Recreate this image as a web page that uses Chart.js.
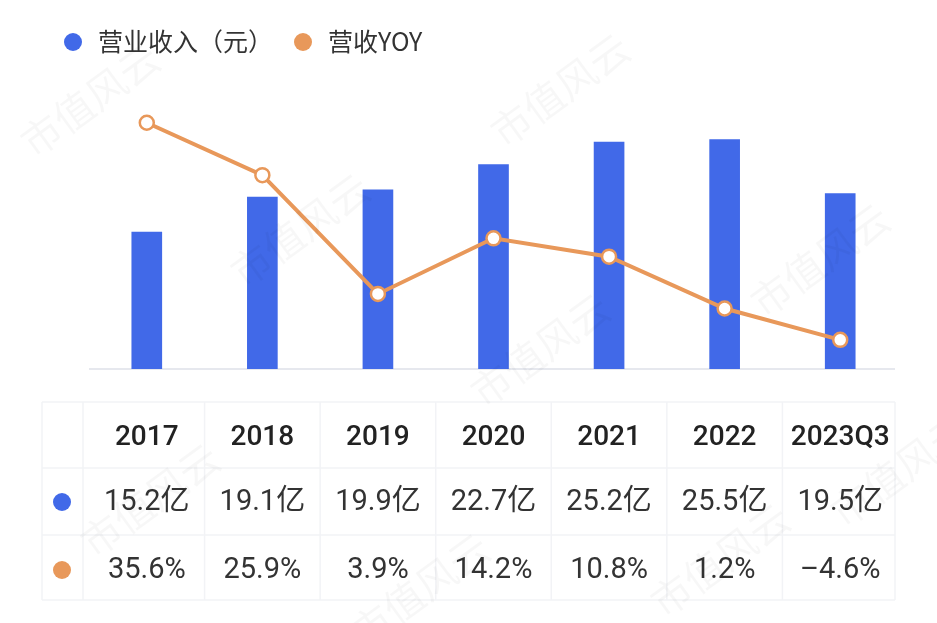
<!DOCTYPE html>
<html>
<head>
<meta charset="utf-8">
<script src="https://cdn.jsdelivr.net/npm/chart.js@4.4.0/dist/chart.umd.min.js"></script>
<style>
  html, body { margin: 0; padding: 0; background: #fff; }
  canvas { display: block; }
</style>
</head>
<body>
<canvas id="chart" width="937" height="623"></canvas>
<script>
// データ
const categories = ['2017', '2018', '2019', '2020', '2021', '2022', '2023Q3'];
const revenue = [15.2, 19.1, 19.9, 22.7, 25.2, 25.5, 19.5]; // 亿元
const yoy = [35.6, 25.9, 3.9, 14.2, 10.8, 1.2, -4.6];      // %
const seriesNames = ['营业收入（元）', '营收YOY'];

const BLUE = '#4169e8';
const ORANGE = '#e8985a';
const FONT = 'Roboto, "Noto Sans CJK SC", sans-serif';

// 表の文字列
const revenueText = revenue.map(v => v.toFixed(1) + '亿');
const yoyText = yoy.map(v => (v < 0 ? '–' + Math.abs(v).toFixed(1) : v.toFixed(1)) + '%');

// 凡例・基線・下の表を描くプラグイン
const extrasPlugin = {
    id: 'extras',
    beforeDatasetsDraw(chart) {
        const ctx = chart.ctx;
        const area = chart.chartArea;
        ctx.save();
        ctx.strokeStyle = '#e6e8ee';
        ctx.lineWidth = 2;
        ctx.beginPath();
        ctx.moveTo(area.left, area.bottom);
        ctx.lineTo(area.right - 3, area.bottom);
        ctx.stroke();
        ctx.restore();
    },
    afterDraw(chart) {
        const ctx = chart.ctx;
        const x = chart.scales.x;
        const colors = [BLUE, ORANGE];
        ctx.save();

        // 凡例
        const legendX = [73, 303];
        ctx.font = '25px "Noto Sans CJK SC", sans-serif';
        ctx.textBaseline = 'middle';
        ctx.textAlign = 'left';
        seriesNames.forEach((name, i) => {
            ctx.fillStyle = colors[i];
            ctx.beginPath();
            ctx.arc(legendX[i], 42, 9, 0, Math.PI * 2);
            ctx.fill();
            ctx.fillStyle = '#333';
            ctx.fillText(name, legendX[i] + 25, 41);
        });

        // 表
        const step = x.getPixelForValue(1) - x.getPixelForValue(0);
        const tLeft = 42;
        const firstCol = x.getPixelForValue(0) - step / 2 - 6;
        const tRight = x.getPixelForValue(categories.length - 1) + step / 2 - 3;
        const rowY = [402, 468, 535, 600];

        ctx.strokeStyle = '#f2f3f6';
        ctx.lineWidth = 1.5;
        rowY.forEach(y => {
            ctx.beginPath();
            ctx.moveTo(tLeft, y);
            ctx.lineTo(tRight, y);
            ctx.stroke();
        });
        const colX = [tLeft, firstCol];
        for (let i = 1; i < categories.length; i++) colX.push(x.getPixelForValue(i) - step / 2);
        colX.push(tRight);
        colX.forEach(cx => {
            ctx.beginPath();
            ctx.moveTo(cx, rowY[0]);
            ctx.lineTo(cx, rowY[3]);
            ctx.stroke();
        });

        ctx.textAlign = 'center';
        ctx.fillStyle = '#222';
        ctx.font = '500 28px ' + FONT;
        categories.forEach((c, i) => {
            ctx.fillText(c, x.getPixelForValue(i), 438);
        });
        ctx.font = '29px ' + FONT;
        ctx.fillStyle = '#333';
        revenueText.forEach((t, i) => ctx.fillText(t, x.getPixelForValue(i), 503));
        yoyText.forEach((t, i) => ctx.fillText(t, x.getPixelForValue(i), 571));

        // 行頭の丸
        [502, 570].forEach((y, i) => {
            ctx.fillStyle = colors[i];
            ctx.beginPath();
            ctx.arc(62, y, 9, 0, Math.PI * 2);
            ctx.fill();
        });

        // 透かし
        ctx.font = '40px "Noto Sans CJK SC", sans-serif';
        ctx.fillStyle = 'rgba(0,0,0,0.03)';
        const marks = [[90, 100], [300, 230], [560, 90], [150, 500], [540, 350], [820, 260], [420, 590], [720, 560], [900, 470]];
        marks.forEach(([mx, my]) => {
            ctx.save();
            ctx.translate(mx, my);
            ctx.rotate(-Math.PI / 5);
            ctx.fillText('市值风云', 0, 0);
            ctx.restore();
        });

        ctx.restore();
    }
};

new Chart(document.getElementById('chart'), {
    data: {
        labels: categories,
        datasets: [
            {
                type: 'bar',
                label: seriesNames[0],
                data: revenue,
                yAxisID: 'y',
                order: 1,
                backgroundColor: BLUE,
                barThickness: 30
            },
            {
                type: 'line',
                label: seriesNames[1],
                data: yoy,
                yAxisID: 'y1',
                order: 0,
                borderColor: ORANGE,
                borderWidth: 4,
                tension: 0,
                pointRadius: 7,
                pointBorderWidth: 2.5,
                pointBackgroundColor: '#fff',
                pointBorderColor: ORANGE
            }
        ]
    },
    options: {
        responsive: false,
        animation: false,
        layout: { padding: { left: 89, right: 39, top: 99, bottom: 254 } },
        plugins: {
            legend: { display: false },
            tooltip: { enabled: false }
        },
        scales: {
            x: { display: false, offset: true, grid: { display: false } },
            y: { display: false, min: 0, max: 30 },
            y1: { display: false, min: -10, max: 40 }
        }
    },
    plugins: [extrasPlugin]
});
</script>
</body>
</html>
